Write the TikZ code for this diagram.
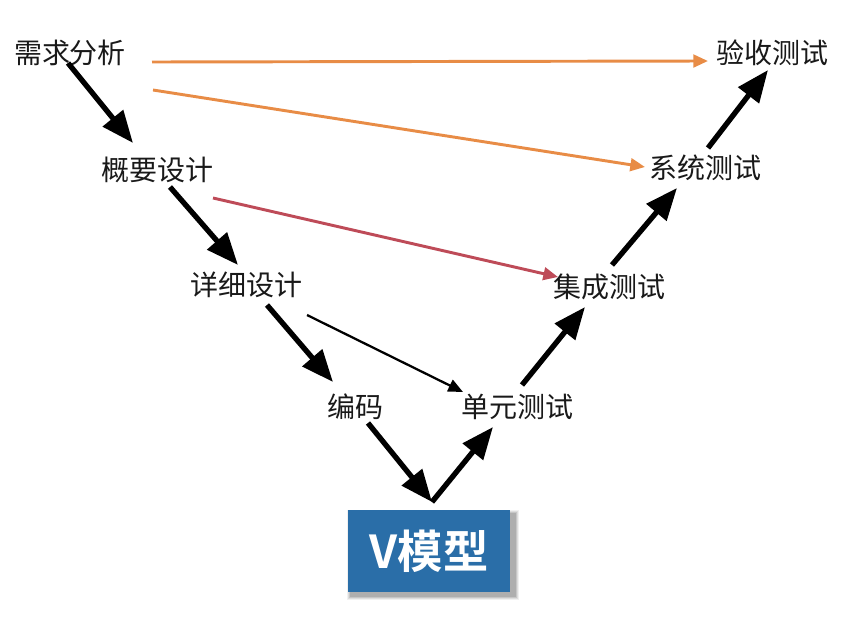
\documentclass[tikz,border=0pt]{standalone}
\usepackage{fontspec}
\setmainfont{Noto Sans CJK SC}[BoldFont={Noto Sans CJK SC Bold}]
\usetikzlibrary{arrows.meta,calc,backgrounds}
\definecolor{vblue}{RGB}{42,110,168}
\definecolor{orangeline}{RGB}{232,140,70}
\definecolor{redline}{RGB}{190,75,88}
\begin{document}
\begin{tikzpicture}[x=0.75pt,y=-0.75pt,
  lab/.style={font=\fontsize{21}{25}\selectfont, text=black!90, inner sep=0pt},
  bigarrow/.style={line width=4pt, -{Triangle[length=24pt,width=19pt]}},
  thinarrow/.style={line width=2.2pt, -{Triangle[length=11pt,width=9.5pt]}},
  vbox/.style={fill=vblue, text=white, minimum width=122pt, minimum height=61pt,
    inner sep=0pt, font=\bfseries\fontsize{34}{40}\selectfont}]
\useasboundingbox (0,0) rectangle (865,621);
% labels
\node[lab] (xq) at (70,53) {需求分析};
\node[lab] (gy) at (157,170) {概要设计};
\node[lab] (xx) at (246,285) {详细设计};
\node[lab] (bm) at (355,407) {编码};
\node[lab] (dy) at (517,407) {单元测试};
\node[lab] (jc) at (609,287) {集成测试};
\node[lab] (xt) at (705,168) {系统测试};
\node[lab] (ys) at (772,53) {验收测试};
\node[vbox] (vm) at (429,551) {V模型};
\coordinate (vtx) at (432,502);
\begin{scope}[on background layer]
  \foreach \d/\o in {8/0.06,6/0.08,4/0.10,2/0.12}{
    \fill[black, opacity=\o] ($(vm.north west)+(4-\d/2,4-\d/2)$) rectangle ($(vm.south east)+(4+\d/2,4+\d/2)$);
  }
\end{scope}
% black V arrows
\draw[bigarrow] ($(xq)+(-2,10)$) -- ($(gy)+(-24,-27)$);
\draw[bigarrow] ($(gy)+(13,17)$) -- ($(xx)+(-8,-20)$);
\draw[bigarrow] ($(xx)+(21,20)$) -- ($(bm)+(-22,-25)$);
\draw[bigarrow] ($(bm)+(13,16)$) -- (vtx);
\draw[bigarrow] (vtx) -- ($(dy)+(-24,20)$);
\draw[bigarrow] ($(dy)+(5,-22)$) -- ($(jc)+(-24,20)$);
\draw[bigarrow] ($(jc)+(3,-22)$) -- ($(xt)+(-28,20)$);
\draw[bigarrow] ($(xt)+(3,-20)$) -- ($(ys)+(-4,17)$);
% correspondence arrows
\draw[thinarrow, orangeline] ($(xq)+(82,9)$) -- ($(ys)+(-64,8)$);
\draw[thinarrow, orangeline] ($(xq)+(83,37)$) -- ($(xt)+(-60,-1)$);
\draw[thinarrow, redline] ($(gy)+(56,28)$) -- ($(jc)+(-51,-10)$);
\draw[thinarrow, black, line width=1.7pt] ($(xx)+(61,30)$) -- ($(dy)+(-54,-15)$);
\end{tikzpicture}
\end{document}
